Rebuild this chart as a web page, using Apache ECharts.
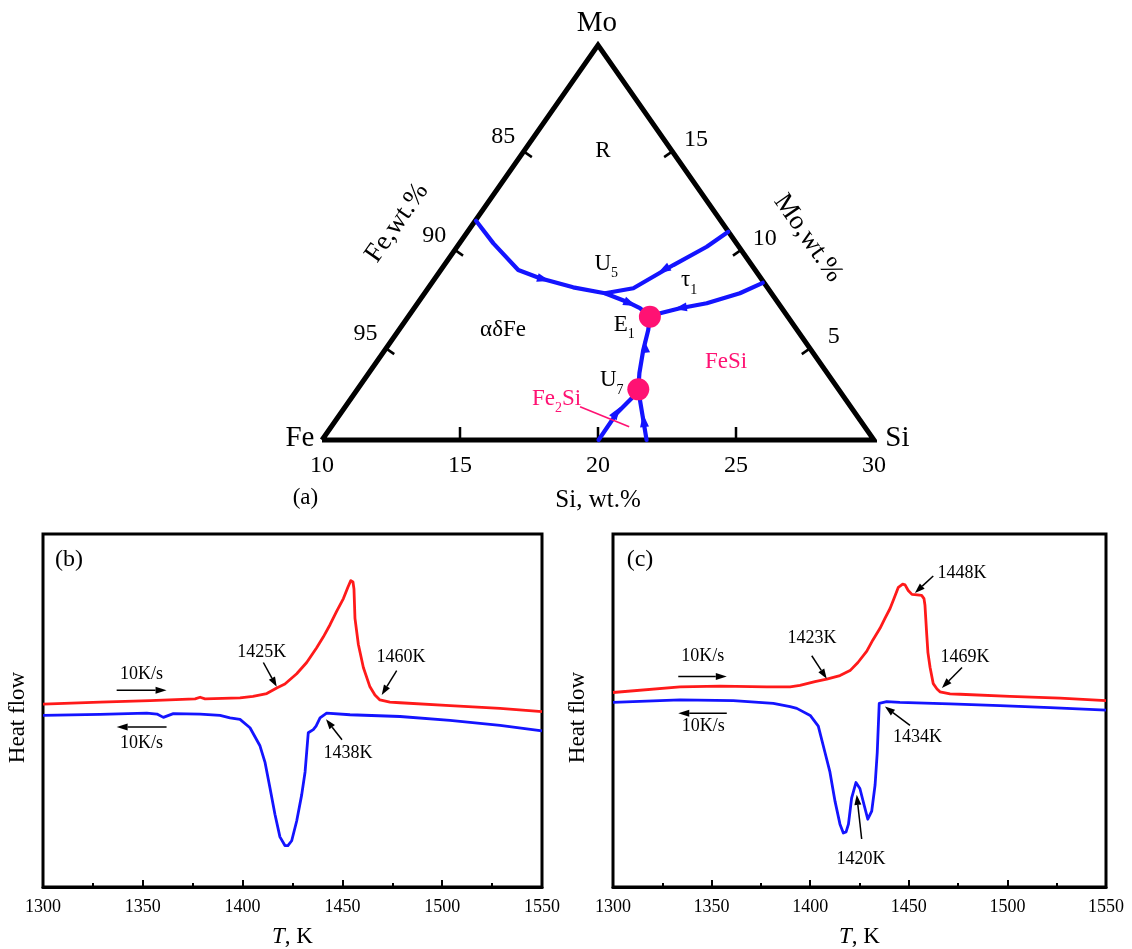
<!DOCTYPE html>
<html><head><meta charset="utf-8">
<script src="https://cdn.jsdelivr.net/npm/echarts@6/dist/echarts.min.js"></script>
<style>html,body{margin:0;padding:0;background:#fff}#c{width:1132px;height:949px}</style>
</head><body><div id="c"></div>
<script>
// ================= DATA =================
// (a) ternary section: x = Si wt.%, y = Mo wt.% level
const MO_BASE = 0.35, MO_APEX = 20.4;
const siTickValues = [15, 20, 25];
const sideTickLevels = [5, 10, 15];
const feTickLabels = ['95', '90', '85'];
const moTickLabels = ['5', '10', '15'];
const triangle = [[10, MO_BASE], [30, MO_BASE], [20, MO_APEX], [10, MO_BASE]];

const curve1 = [[15.58, 11.48], [16.21, 10.33], [17.11, 8.98], [17.90, 8.56], [19.10, 8.10], [20.25, 7.80], [21.04, 7.37], [21.52, 7.04], [21.88, 6.61]];
const curve2 = [[24.72, 10.92], [23.94, 10.16], [22.73, 9.23], [21.28, 8.05], [20.25, 7.80]];
const curve3 = [[25.97, 8.33], [25.14, 7.80], [23.94, 7.29], [22.97, 7.04], [22.25, 6.78], [21.88, 6.61]];
const curve4 = [[21.88, 6.61], [21.82, 5.93], [21.64, 4.92], [21.50, 3.74], [21.46, 2.92]];
const curve5 = [[21.46, 2.92], [21.22, 2.47], [20.68, 1.71], [20.02, 0.35]];
const curve6 = [[21.46, 2.92], [21.52, 2.38], [21.64, 1.37], [21.76, 0.35]];
const invariantPoints = [[21.88, 6.61], [21.46, 2.92]]; // E1, U7
// arrowheads on curves: [fromSi, fromMo, tipSi, tipMo]
const flowArrows = [
  [17.54, 8.70, 18.26, 8.42],
  [20.80, 7.51, 21.38, 7.15],
  [22.79, 9.31, 22.17, 8.83],
  [23.41, 7.15, 22.75, 7.00],
  [21.72, 4.82, 21.67, 5.43],
  [20.51, 1.42, 20.80, 2.03],
  [21.69, 0.96, 21.63, 1.67]
];
const fe2siPointer = [[19.35, 2.04], [21.13, 1.02]];
const ternLabels = [
  {t: 'Mo', si: 19.96, mo: 21.5, k: 'vtx'},
  {t: 'Fe', si: 9.2, mo: 0.45, k: 'vtx'},
  {t: 'Si', si: 30.85, mo: 0.45, k: 'vtx'},
  {t: '(a)', si: 9.4, mo: -2.6, k: 'plain'},
  {t: 'R', si: 20.18, mo: 15.0, k: 'plain'},
  {t: 'U{s|5}', si: 20.3, mo: 9.3, k: 'plain'},
  {t: 'τ{s|1}', si: 23.3, mo: 8.45, k: 'plain'},
  {t: 'E{s|1}', si: 20.95, mo: 6.2, k: 'plain'},
  {t: 'αδFe', si: 16.56, mo: 5.93, k: 'plain'},
  {t: 'U{s|7}', si: 20.5, mo: 3.4, k: 'plain'},
  {t: 'FeSi', si: 24.64, mo: 4.31, k: 'pink'},
  {t: 'Fe{s|2}Si', si: 18.5, mo: 2.45, k: 'pink'},
  {t: 'Fe,wt.%', si: 12.72, mo: 11.37, k: 'feTitle'},
  {t: 'Mo,wt.%', si: 27.61, mo: 10.6, k: 'moTitle'}
];

// (b) and (c) DSC: [T (K), heat flow (arb.)]
const heatB = [[1300,51.8],[1328.6,52.4],[1353.6,52.8],[1376.2,53.3],[1378.7,53.75],[1381.2,53.3],[1398.7,53.6],[1405.2,54.0],[1412.1,54.8],[1417.1,56.4],[1421.2,57.5],[1427.1,60.4],[1432.1,63.6],[1437.1,67.8],[1440.4,70.8],[1443.8,74.3],[1447.1,78.1],[1450.5,81.7],[1452.8,85.0],[1454.2,86.8],[1455.3,86.4],[1455.8,84.4],[1456.3,76.1],[1458.0,68.7],[1460.5,62.2],[1463.8,56.7],[1466.3,54.4],[1468.8,53.0],[1473.8,52.4],[1478.9,52.2],[1503.9,51.4],[1529,50.6],[1550,49.7]];
const coolB = [[1300,48.6],[1328.6,48.9],[1352,49.25],[1357.1,49.0],[1360.3,48.05],[1365.3,49.1],[1378.7,49.0],[1388.7,48.6],[1393.7,47.9],[1398.7,47.5],[1403.7,45.1],[1408.7,40.0],[1411.2,35.4],[1413.7,28.1],[1416.2,20.6],[1418.7,14.2],[1421.2,11.75],[1422.7,11.7],[1424.6,13.1],[1427.1,18.7],[1429.6,26.1],[1431.3,32.6],[1432.9,43.7],[1435.4,44.6],[1436.8,45.6],[1438.8,47.9],[1442.1,49.25],[1453.8,48.8],[1478.9,48.3],[1503.9,47.2],[1529,45.8],[1550,44.2]];
const heatC = [[1300,55.1],[1334,56.7],[1354.3,56.9],[1378,56.7],[1389.8,56.7],[1394.8,57.1],[1402.4,58.2],[1408.4,58.9],[1415.1,59.9],[1420.2,61.3],[1424.2,63.6],[1428.7,66.8],[1431.8,70],[1435.4,73.3],[1437.9,76.1],[1440.5,78.9],[1442.5,81.7],[1444.7,84.9],[1446.9,85.8],[1448.1,85.6],[1449.7,84.0],[1451.6,82.9],[1453.1,82.8],[1456.5,82.6],[1457.7,81.7],[1458.2,79.8],[1459.1,71.5],[1459.7,66.4],[1460.8,62.2],[1462.4,57.6],[1464.3,56.1],[1465.8,55.3],[1470.9,54.7],[1476,54.6],[1501.3,54.0],[1526.7,53.5],[1550,52.8]];
const coolC = [[1300,52.3],[1334,53.0],[1361,52.8],[1381.3,52.0],[1389.8,51.1],[1393.2,50.6],[1400,48.6],[1404.1,45.6],[1407.5,38.1],[1410,32.6],[1412.6,24.25],[1415.1,17.8],[1416.8,15.3],[1418.2,15.6],[1419.4,17.8],[1421,25.2],[1423.2,29.6],[1425.2,27.9],[1427.3,23.3],[1429.2,19.2],[1431.2,21.5],[1432.9,28.9],[1434,38.1],[1435,52.0],[1438.8,52.5],[1445.5,52.3],[1470.9,51.9],[1496.2,51.4],[1521.6,50.8],[1550,50.1]];
// annotation arrows [T1, v1, T2(tip), v2, big?]
const arrowsB = [[1336.9,55.75,1361.9,55.75,1],[1361.9,45.36,1336.9,45.36,1],[1410.4,63.6,1417.1,56.7,0],[1477.2,61.3,1469.7,54.4,0],[1449.8,41.7,1441.8,47.5,0]];
const arrowsC = [[1333.1,59.6,1357.7,59.6,1],[1357.7,49.25,1333.1,49.25,1],[1400.8,65.5,1408.4,59.0,0],[1462.4,88.1,1453.1,83.3,0],[1477,62.2,1466.8,56.4,0],[1450.6,45.8,1437.9,51.1,0],[1426.1,13.6,1423.6,26.1,0]];
const labelsB = [{t:'(b)',T:1313,v:92.6,k:'panel'},{t:'10K/s',T:1349.4,v:60.4},{t:'10K/s',T:1349.4,v:40.6},{t:'1425K',T:1409.6,v:66.4},{t:'1460K',T:1479.4,v:65},{t:'1438K',T:1452.8,v:37.8}];
const labelsC = [{t:'(c)',T:1313.7,v:92.6,k:'panel'},{t:'10K/s',T:1345.5,v:65.5},{t:'10K/s',T:1345.8,v:45.6},{t:'1423K',T:1400.9,v:70.6},{t:'1448K',T:1477,v:88.9},{t:'1469K',T:1478.5,v:65},{t:'1434K',T:1454.4,v:42.5},{t:'1420K',T:1425.8,v:7.8}];

// ================= STYLE / RENDER =================
const FONT = '"Liberation Serif", "Times New Roman", serif';
const BLUE = '#1414ff', RED = '#ff1a1a', PINK = '#ff1273';

function textEl(x, y, text, size, fill, rot, rich) {
  return {type: 'text', x: x, y: y, rotation: rot || 0,
    style: {text: text, fill: fill, fontSize: size, fontFamily: FONT,
      align: 'center', verticalAlign: 'middle', textAlign: 'center', textVerticalAlign: 'middle', rich: rich}};
}
function arrowEl(p1, p2, head, hw, lw) {
  const dx = p2[0] - p1[0], dy = p2[1] - p1[1], L = Math.hypot(dx, dy);
  const ux = dx / L, uy = dy / L;
  const bx = p2[0] - ux * head, by = p2[1] - uy * head;
  return [
    {type: 'line', shape: {x1: p1[0], y1: p1[1], x2: bx, y2: by}, style: {stroke: '#000', lineWidth: lw}},
    {type: 'polygon', shape: {points: [[p2[0], p2[1]], [bx - uy * hw, by + ux * hw], [bx + uy * hw, by - ux * hw]]}, style: {fill: '#000'}}
  ];
}

// tick rows: [kind (0 base, 1 left side, 2 right side), value, label index]
const ternTicks = [];
siTickValues.forEach((v, i) => ternTicks.push([0, v, i]));
sideTickLevels.forEach((v, i) => { ternTicks.push([1, v, i]); ternTicks.push([2, v, i]); });

function sideGeom(api, kind, level) {
  const A = api.coord([10, MO_BASE]), B = api.coord([30, MO_BASE]), C = api.coord([20, MO_APEX]);
  const t = (level - MO_BASE) / (MO_APEX - MO_BASE);
  const S = kind === 1 ? A : B;
  const p = [S[0] + t * (C[0] - S[0]), S[1] + t * (C[1] - S[1])];
  const L = Math.hypot(C[0] - S[0], C[1] - S[1]);
  const dx = (C[0] - S[0]) / L, dy = (C[1] - S[1]) / L;
  const n = kind === 1 ? [-dy, dx] : [dy, -dx]; // inward normal
  return {p, n};
}

const richSub = {s: {fontSize: 14, fontFamily: FONT, verticalAlign: 'bottom', lineHeight: 34}};
const tempFmt = v => String(v);

function dscX(gi) {
  return {gridIndex: gi, type: 'value', min: 1300, max: 1550, interval: 50,
    axisLine: {show: true, lineStyle: {color: '#000', width: 3}},
    axisTick: {show: true, inside: true, length: 7, lineStyle: {color: '#000', width: 2}},
    minorTick: {show: true, splitNumber: 2, length: 4, lineStyle: {color: '#000', width: 2}},
    splitLine: {show: false},
    axisLabel: {fontSize: 18, fontFamily: FONT, color: '#000', margin: 11, formatter: tempFmt},
    name: '{i|T}, K', nameLocation: 'middle', nameGap: 38,
    nameTextStyle: {fontSize: 23, fontFamily: FONT, color: '#000', rich: {i: {fontStyle: 'italic', fontSize: 23, fontFamily: FONT, color: '#000'}}}};
}
function dscY(gi, gap) {
  return {gridIndex: gi, type: 'value', min: 0, max: 100, axisLine: {show: false}, axisTick: {show: false}, axisLabel: {show: false}, splitLine: {show: false},
    name: 'Heat flow', nameLocation: 'middle', nameGap: gap, nameRotate: 90,
    nameTextStyle: {fontSize: 23, fontFamily: FONT, color: '#000', padding: [0, 14, 0, 0]}};
}

const option = {
  backgroundColor: '#fff',
  animation: false,
  grid: [
    {left: 322, top: 45, width: 552, height: 395},
    {left: 43, top: 534, width: 499, height: 360, show: true, borderColor: '#000', borderWidth: 3, backgroundColor: 'transparent'},
    {left: 613, top: 534, width: 493, height: 360, show: true, borderColor: '#000', borderWidth: 3, backgroundColor: 'transparent'}
  ],
  xAxis: [
    {gridIndex: 0, type: 'value', min: 10, max: 30, interval: 5,
      axisLine: {show: false}, axisTick: {show: false}, splitLine: {show: false},
      axisLabel: {fontSize: 24, fontFamily: FONT, color: '#000', margin: 14},
      name: 'Si, wt.%', nameLocation: 'middle', nameGap: 48,
      nameTextStyle: {fontSize: 25, fontFamily: FONT, color: '#000'}},
    dscX(1), dscX(2)
  ],
  yAxis: [
    {gridIndex: 0, type: 'value', min: MO_BASE, max: MO_APEX, show: false},
    dscY(1, 14), dscY(2, 24)
  ],
  series: []
};

const S = option.series;
// triangle
S.push({type: 'line', xAxisIndex: 0, yAxisIndex: 0, data: triangle, symbol: 'none', clip: false, silent: true,
  lineStyle: {color: '#000', width: 5, join: 'miter', miterLimit: 10}, z: 3});
// phase boundary curves
[curve1, curve2, curve3, curve4, curve5, curve6].forEach(c => S.push({type: 'line', xAxisIndex: 0, yAxisIndex: 0, data: c,
  symbol: 'none', clip: false, lineStyle: {color: BLUE, width: 4.2, join: 'round', cap: 'round'}, z: 4}));
// Fe2Si pointer
S.push({type: 'line', xAxisIndex: 0, yAxisIndex: 0, data: fe2siPointer, symbol: 'none', clip: false, lineStyle: {color: PINK, width: 1.6}, z: 4});
// invariant points
S.push({type: 'scatter', xAxisIndex: 0, yAxisIndex: 0, data: invariantPoints, symbolSize: 22, itemStyle: {color: PINK, opacity: 1}, z: 6, clip: false});
// flow arrowheads
S.push({type: 'custom', xAxisIndex: 0, yAxisIndex: 0, data: flowArrows, clip: false, z: 5,
  renderItem: (params, api) => {
    const p1 = api.coord([api.value(0), api.value(1)]), p2 = api.coord([api.value(2), api.value(3)]);
    const dx = p2[0] - p1[0], dy = p2[1] - p1[1], L = Math.hypot(dx, dy), ux = dx / L, uy = dy / L;
    const h = 13, w = 4.5, bx = p2[0] - ux * h, by = p2[1] - uy * h;
    return {type: 'polygon', shape: {points: [[p2[0], p2[1]], [bx - uy * w, by + ux * w], [bx + uy * w, by - ux * w]]}, style: {fill: BLUE}};
  }});
// ternary tick marks
S.push({type: 'custom', xAxisIndex: 0, yAxisIndex: 0, data: ternTicks, clip: false, z: 3,
  renderItem: (params, api) => {
    const kind = api.value(0), v = api.value(1);
    if (kind === 0) {
      const p = api.coord([v, MO_BASE]);
      return {type: 'line', shape: {x1: p[0], y1: p[1], x2: p[0], y2: p[1] - 13}, style: {stroke: '#000', lineWidth: 2.5}};
    }
    const g = sideGeom(api, kind, v), p = g.p, n = g.n;
    return {type: 'line', shape: {x1: p[0], y1: p[1], x2: p[0] + n[0] * 10, y2: p[1] + n[1] * 10}, style: {stroke: '#000', lineWidth: 2.5}};
  }});
// side tick labels
S.push({type: 'custom', xAxisIndex: 0, yAxisIndex: 0, data: ternTicks.filter(r => r[0] !== 0), clip: false, z: 7,
  renderItem: (params, api) => {
    const kind = api.value(0), v = api.value(1), idx = api.value(2);
    const g = sideGeom(api, kind, v), p = g.p, n = g.n;
    const lab = kind === 1 ? feTickLabels[idx] : moTickLabels[idx];
    const x = kind === 1 ? p[0] - n[0] * 25 : p[0] - n[0] * 24 + 4;
    const y = kind === 1 ? p[1] - n[1] * 25 : p[1] - n[1] * 24 + 2.5;
    return textEl(x, y, lab, 24, '#000');
  }});
// ternary labels
S.push({type: 'custom', xAxisIndex: 0, yAxisIndex: 0, data: ternLabels.map(l => [l.si, l.mo]), clip: false, z: 7,
  renderItem: (params, api) => {
    const l = ternLabels[params.dataIndex];
    const p = api.coord([api.value(0), api.value(1)]);
    const A = api.coord([10, MO_BASE]), B = api.coord([30, MO_BASE]), C = api.coord([20, MO_APEX]);
    if (l.k === 'vtx') return textEl(p[0], p[1], l.t, 29, '#000');
    if (l.k === 'pink') return textEl(p[0], p[1], l.t, 23, PINK, 0, richSub);
    if (l.k === 'feTitle') return textEl(p[0], p[1], l.t, 27, '#000', Math.atan2(A[1] - C[1], C[0] - A[0]));
    if (l.k === 'moTitle') return textEl(p[0], p[1], l.t, 27, '#000', -Math.atan2(B[1] - C[1], B[0] - C[0]));
    return textEl(p[0], p[1], l.t, 23, '#000', 0, richSub);
  }});
// DSC curves
[[heatB, 1, RED], [coolB, 1, BLUE], [heatC, 2, RED], [coolC, 2, BLUE]].forEach(d => S.push({
  type: 'line', xAxisIndex: d[1], yAxisIndex: d[1], data: d[0], symbol: 'none', clip: true,
  lineStyle: {color: d[2], width: 2.8, join: 'round'}, z: 3}));
// DSC annotation arrows and texts
[[arrowsB, labelsB, 1], [arrowsC, labelsC, 2]].forEach(d => {
  const arr = d[0], labs = d[1], gi = d[2];
  S.push({type: 'custom', xAxisIndex: gi, yAxisIndex: gi, data: arr, clip: false, z: 5,
    renderItem: (params, api) => {
      const big = api.value(4) === 1;
      const p1 = api.coord([api.value(0), api.value(1)]), p2 = api.coord([api.value(2), api.value(3)]);
      return {type: 'group', children: arrowEl(p1, p2, big ? 11 : 10, 3.5, 1.5)};
    }});
  S.push({type: 'custom', xAxisIndex: gi, yAxisIndex: gi, data: labs.map(l => [l.T, l.v]), clip: false, z: 5,
    renderItem: (params, api) => {
      const l = labs[params.dataIndex];
      const p = api.coord([api.value(0), api.value(1)]);
      return textEl(p[0], p[1], l.t, l.k === 'panel' ? 24 : 18, '#000');
    }});
});

const chart = echarts.init(document.getElementById('c'));
chart.setOption(option);
</script>
</body></html>
